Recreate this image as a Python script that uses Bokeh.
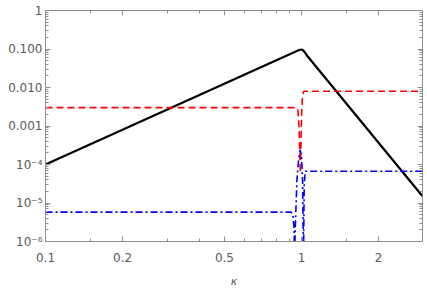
from bokeh.plotting import figure
from bokeh.models import FixedTicker, LogAxis, Range1d
from bokeh.embed import file_html
from bokeh.resources import INLINE

# --- data ---
kappa_black = [0.1, 0.95, 0.98, 1.0, 1.02, 1.05, 2.97]
value_black = [1e-4, 0.0857, 0.094, 0.097, 0.09, 0.068, 1.5e-5]

kappa_red = [0.1, 0.955, 0.968, 0.978, 0.985, 0.99, 0.995, 1.002, 1.01, 1.022, 2.97]
value_red = [3e-3, 3e-3, 2.6e-3, 1e-3, 2e-4, 6e-5, 3e-4, 2.5e-3, 6.5e-3, 8e-3, 8e-3]

kappa_blue = [0.1, 0.91, 0.925, 0.935, 0.94, 0.945, 0.952, 0.96, 0.975, 0.988,
              1.0, 1.01, 1.018, 1.025, 1.035, 2.97]
value_blue = [5.8e-6, 5.8e-6, 5.0e-6, 2.5e-6, 3e-7, 2e-6, 8e-6, 4e-5, 1.4e-4, 2.4e-4,
              1.7e-4, 4e-5, 3e-7, 3e-5, 6.7e-5, 6.7e-5]

x_major = [0.1, 0.2, 0.5, 1.0, 2.0]
x_labels = ["0.1", "0.2", "0.5", "1", "2"]
x_minor = [0.15, 0.3, 0.4, 0.6, 0.7, 0.8, 0.9, 1.5, 3.0]

y_major = [1e-6, 1e-5, 1e-4, 1e-3, 1e-2, 1e-1, 1.0]
y_labels = ["10⁻⁶", "10⁻⁵", "10⁻⁴", "0.001", "0.010", "0.100", "1"]
y_minor = [m * 10.0 ** e for e in range(-6, 0) for m in range(2, 10)]

x_start, x_end = 0.1, 2.97
y_start, y_end = 1e-6, 1.0

AX = "#8f8f8f"
TXT = "#5a5a5a"
FONT = "DejaVu Sans"

p = figure(width=427, height=290, x_axis_type="log", y_axis_type="log",
           x_range=Range1d(x_start, x_end), y_range=Range1d(y_start, y_end),
           output_backend="svg", toolbar_location=None,
           min_border_left=45, min_border_right=5, min_border_top=10, min_border_bottom=47)

p.xgrid.visible = False
p.ygrid.visible = False
p.outline_line_color = AX
p.background_fill_color = "white"
p.border_fill_color = "white"

xt = FixedTicker(ticks=x_major, minor_ticks=x_minor)
yt = FixedTicker(ticks=y_major, minor_ticks=y_minor)


def style(ax, show_labels):
    ax.axis_line_color = AX
    ax.major_tick_line_color = AX
    ax.minor_tick_line_color = AX
    ax.major_tick_in = 5
    ax.major_tick_out = 0
    ax.minor_tick_in = 3
    ax.minor_tick_out = 0
    if show_labels:
        ax.major_label_text_color = TXT
        ax.major_label_text_font = FONT
        ax.major_label_text_font_size = "12px"
    else:
        ax.major_label_text_color = None
        ax.major_label_text_font_size = "1px"
        ax.major_label_standoff = 0


bx = p.below[0]
bx.ticker = xt
bx.major_label_overrides = {float(k): l for k, l in zip(x_major, x_labels)}
style(bx, True)
bx.major_label_standoff = 11
bx.axis_label = "κ"
bx.axis_label_text_font = FONT
bx.axis_label_text_font_style = "italic"
bx.axis_label_text_font_size = "11px"
bx.axis_label_text_color = TXT
bx.axis_label_standoff = 10

ly = p.left[0]
ly.ticker = yt
ly.major_label_overrides = {float(k): l for k, l in zip(y_major, y_labels)}
style(ly, True)
ly.major_label_standoff = 3

top = LogAxis(ticker=FixedTicker(ticks=x_major, minor_ticks=x_minor))
style(top, False)
p.add_layout(top, "above")

right = LogAxis(ticker=FixedTicker(ticks=y_major, minor_ticks=y_minor))
style(right, False)
p.add_layout(right, "right")

p.line(kappa_black, value_black, line_color="black", line_width=2.2)
p.line(kappa_red, value_red, line_color="#ff0000", line_width=1.6, line_dash="7 4")
p.line(kappa_blue, value_blue, line_color="#0000ff", line_width=1.6, line_dash="7 3 2 3")

open("out.html", "w").write(file_html(p, INLINE))
